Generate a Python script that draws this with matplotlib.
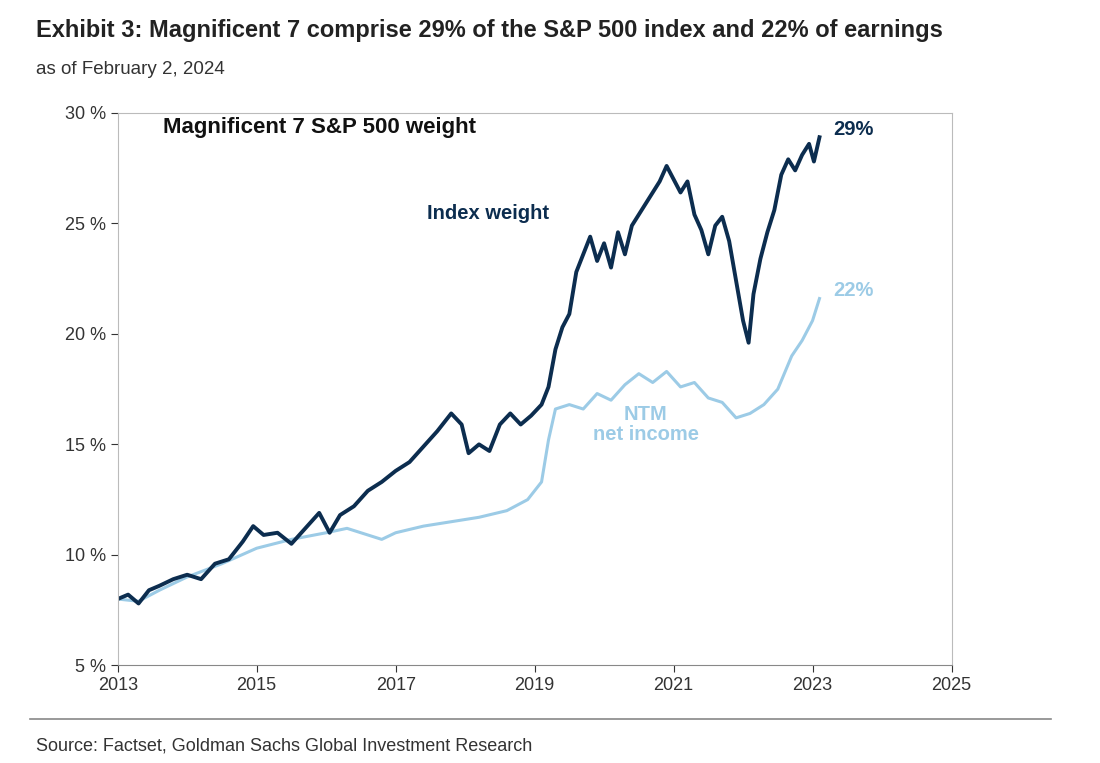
import matplotlib.pyplot as plt

plt.rcParams['font.family'] = ['Liberation Sans', 'DejaVu Sans']

# Magnificent 7 index weight (%)
idx_x = [2013.0, 2013.15, 2013.3, 2013.45, 2013.6, 2013.8, 2014.0, 2014.2, 2014.4, 2014.6,
         2014.8, 2014.95, 2015.1, 2015.3, 2015.5, 2015.7, 2015.9, 2016.05, 2016.2, 2016.4,
         2016.6, 2016.8, 2017.0, 2017.2, 2017.4, 2017.6, 2017.8, 2017.95, 2018.05, 2018.2,
         2018.35, 2018.5, 2018.65, 2018.8, 2018.95, 2019.1, 2019.2, 2019.3, 2019.4, 2019.5,
         2019.6, 2019.7, 2019.8, 2019.9, 2020.0, 2020.1, 2020.2, 2020.3, 2020.4, 2020.5,
         2020.6, 2020.7, 2020.8, 2020.9, 2021.0, 2021.1, 2021.2, 2021.3, 2021.4, 2021.5,
         2021.6, 2021.7, 2021.8, 2021.9, 2022.0, 2022.08, 2022.15, 2022.25, 2022.35, 2022.45,
         2022.55, 2022.65, 2022.75, 2022.85, 2022.95, 2023.02, 2023.1]
idx_y = [8.0, 8.2, 7.8, 8.4, 8.6, 8.9, 9.1, 8.9, 9.6, 9.8,
         10.6, 11.3, 10.9, 11.0, 10.5, 11.2, 11.9, 11.0, 11.8, 12.2,
         12.9, 13.3, 13.8, 14.2, 14.9, 15.6, 16.4, 15.9, 14.6, 15.0,
         14.7, 15.9, 16.4, 15.9, 16.3, 16.8, 17.6, 19.3, 20.3, 20.9,
         22.8, 23.6, 24.4, 23.3, 24.1, 23.0, 24.6, 23.6, 24.9, 25.4,
         25.9, 26.4, 26.9, 27.6, 27.0, 26.4, 26.9, 25.4, 24.7, 23.6,
         24.9, 25.3, 24.2, 22.4, 20.6, 19.6, 21.8, 23.4, 24.6, 25.6,
         27.2, 27.9, 27.4, 28.1, 28.6, 27.8, 28.9]

# NTM net income share (%)
ntm_x = [2013.0, 2013.3, 2013.6, 2014.0, 2014.5, 2015.0, 2015.5, 2016.0, 2016.3, 2016.6,
         2016.8, 2017.0, 2017.4, 2017.8, 2018.2, 2018.6, 2018.9, 2019.1, 2019.2, 2019.3,
         2019.5, 2019.7, 2019.9, 2020.1, 2020.3, 2020.5, 2020.7, 2020.9, 2021.1, 2021.3,
         2021.5, 2021.7, 2021.9, 2022.1, 2022.3, 2022.5, 2022.7, 2022.85, 2023.0, 2023.1]
ntm_y = [8.0, 7.9, 8.4, 9.0, 9.6, 10.3, 10.7, 11.0, 11.2, 10.9,
         10.7, 11.0, 11.3, 11.5, 11.7, 12.0, 12.5, 13.3, 15.2, 16.6,
         16.8, 16.6, 17.3, 17.0, 17.7, 18.2, 17.8, 18.3, 17.6, 17.8,
         17.1, 16.9, 16.2, 16.4, 16.8, 17.5, 19.0, 19.7, 20.6, 21.6]

x_ticks = [2013, 2015, 2017, 2019, 2021, 2023, 2025]
y_ticks = [5, 10, 15, 20, 25, 30]

dark = "#0c2d4f"
light = "#9ccbe6"

fig = plt.figure(figsize=(11, 7.63), dpi=100)
ax = fig.add_axes([0.107, 0.128, 0.758, 0.724])

ax.plot(ntm_x, ntm_y, color=light, lw=2.2)
ax.plot(idx_x, idx_y, color=dark, lw=2.8)

ax.set_xlim(2013, 2025)
ax.set_ylim(5, 30)
ax.set_xticks(x_ticks)
ax.set_yticks(y_ticks)
ax.set_yticklabels([f"{v} %" for v in y_ticks])
ax.tick_params(labelsize=13, colors="#333333", length=5, direction="out")
for s in ax.spines.values():
    s.set_color("#bbbbbb")
ax.spines["bottom"].set_color("#888888")

ax.text(2013.65, 29.1, "Magnificent 7 S&P 500 weight", fontsize=16, fontweight="bold", color="#111111")
ax.text(2017.45, 25.2, "Index weight", fontsize=14.5, fontweight="bold", color=dark)
ax.text(2023.3, 29.0, "29%", fontsize=14.5, fontweight="bold", color=dark)
ax.text(2023.3, 21.7, "22%", fontsize=14.5, fontweight="bold", color=light)
ax.text(2020.6, 16.8, "NTM\nnet income", fontsize=14.5, fontweight="bold", color=light,
        ha="center", va="top", linespacing=1.1)

fig.text(0.033, 0.952, "Exhibit 3: Magnificent 7 comprise 29% of the S&P 500 index and 22% of earnings",
         fontsize=17, fontweight="bold", color="#222222")
fig.text(0.033, 0.903, "as of February 2, 2024", fontsize=13.5, color="#333333")
fig.add_artist(plt.Line2D([0.027, 0.955], [0.058, 0.058], color="#888888", lw=1.2, transform=fig.transFigure))
fig.text(0.033, 0.017, "Source: Factset, Goldman Sachs Global Investment Research", fontsize=13, color="#333333")

fig.savefig("out.png", dpi=100)
